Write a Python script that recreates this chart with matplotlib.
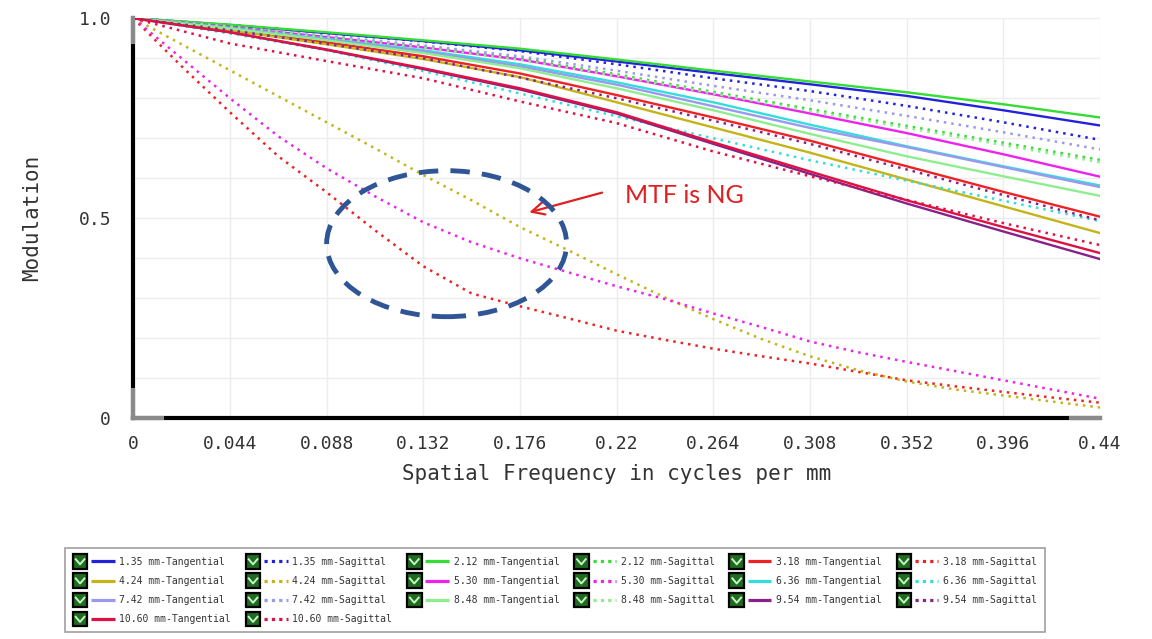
import matplotlib.pyplot as plt
from matplotlib.patches import Ellipse, Rectangle
from matplotlib.lines import Line2D
from matplotlib.legend_handler import HandlerBase

# spatial frequency samples (cycles per mm)
freq = [0, 0.044, 0.088, 0.132, 0.176, 0.22, 0.264, 0.308, 0.352, 0.396, 0.44]
freq_fine = [0, 0.022, 0.044, 0.066, 0.088, 0.11, 0.132, 0.154, 0.176, 0.198, 0.22,
             0.242, 0.264, 0.286, 0.308, 0.33, 0.352, 0.374, 0.396, 0.418, 0.44]

# modulation per field
tan_135 = [1, 0.983, 0.963, 0.943, 0.920, 0.892, 0.863, 0.835, 0.806, 0.770, 0.732]
sag_135 = [1, 0.983, 0.963, 0.942, 0.918, 0.885, 0.850, 0.818, 0.781, 0.740, 0.696]
tan_212 = [1, 0.984, 0.965, 0.945, 0.924, 0.897, 0.869, 0.842, 0.815, 0.785, 0.752]
sag_212 = [1, 0.980, 0.955, 0.930, 0.900, 0.860, 0.816, 0.773, 0.731, 0.689, 0.646]
tan_318 = [1, 0.972, 0.940, 0.905, 0.862, 0.808, 0.752, 0.694, 0.630, 0.566, 0.504]
sag_318 = [1.0, 0.88, 0.765, 0.655, 0.565, 0.47, 0.38, 0.312, 0.28, 0.25, 0.219,
           0.196, 0.174, 0.155, 0.137, 0.116, 0.095, 0.08, 0.066, 0.052, 0.039]
tan_424 = [1, 0.970, 0.935, 0.898, 0.853, 0.790, 0.727, 0.664, 0.597, 0.530, 0.463]
sag_424 = [1.0, 0.935, 0.87, 0.805, 0.74, 0.675, 0.608, 0.545, 0.478, 0.42, 0.36,
           0.302, 0.248, 0.198, 0.155, 0.12, 0.092, 0.072, 0.057, 0.042, 0.027]
tan_530 = [1, 0.978, 0.953, 0.927, 0.897, 0.855, 0.810, 0.762, 0.713, 0.660, 0.604]
sag_530 = [1.0, 0.90, 0.80, 0.705, 0.625, 0.555, 0.49, 0.44, 0.40, 0.365, 0.33,
           0.298, 0.262, 0.228, 0.192, 0.165, 0.141, 0.118, 0.095, 0.072, 0.049]
tan_636 = [1, 0.976, 0.949, 0.920, 0.885, 0.840, 0.790, 0.734, 0.680, 0.630, 0.582]
sag_636 = [1, 0.962, 0.920, 0.868, 0.812, 0.755, 0.700, 0.645, 0.594, 0.544, 0.493]
tan_742 = [1, 0.975, 0.947, 0.917, 0.880, 0.834, 0.780, 0.726, 0.678, 0.628, 0.578]
sag_742 = [1, 0.980, 0.956, 0.932, 0.905, 0.869, 0.831, 0.795, 0.756, 0.715, 0.672]
tan_848 = [1, 0.974, 0.945, 0.913, 0.875, 0.825, 0.770, 0.711, 0.655, 0.605, 0.556]
sag_848 = [1, 0.979, 0.953, 0.927, 0.896, 0.856, 0.812, 0.768, 0.726, 0.683, 0.640]
tan_954 = [1, 0.965, 0.921, 0.873, 0.822, 0.762, 0.686, 0.611, 0.537, 0.467, 0.398]
sag_954 = [1, 0.970, 0.936, 0.900, 0.852, 0.800, 0.744, 0.686, 0.622, 0.558, 0.495]
tan_1060 = [1, 0.965, 0.922, 0.875, 0.825, 0.765, 0.690, 0.617, 0.545, 0.478, 0.413]
sag_1060 = [1, 0.937, 0.893, 0.850, 0.792, 0.738, 0.667, 0.605, 0.546, 0.488, 0.433]

fields = ['1.35', '2.12', '3.18', '4.24', '5.30', '6.36', '7.42', '8.48', '9.54', '10.60']
colors = ['#2222dd', '#33dd33', '#ee2222', '#c4b418', '#ee22ee',
          '#33dddd', '#9999ee', '#8eee8e', '#882288', '#dd1144']
tan_list = [tan_135, tan_212, tan_318, tan_424, tan_530, tan_636, tan_742, tan_848, tan_954, tan_1060]
sag_list = [sag_135, sag_212, sag_318, sag_424, sag_530, sag_636, sag_742, sag_848, sag_954, sag_1060]

mono = 'DejaVu Sans Mono'


# checkbox + line legend handle, like the lens design software
class CheckHandler(HandlerBase):
    def create_artists(self, legend, orig_handle, xdescent, ydescent, width, height, fontsize, trans):
        x0 = -xdescent
        y0 = -ydescent
        h = height
        s = 1.3 * h
        yb = y0 + h / 2 - s / 2
        box = Rectangle((x0, yb), s, s, facecolor='#1f6b1f', edgecolor='black', lw=1.6, transform=trans)
        check = Line2D([x0 + 0.2 * s, x0 + 0.5 * s, x0 + 0.8 * s],
                       [yb + 0.65 * s, yb + 0.3 * s, yb + 0.65 * s],
                       color='#c8f5c8', lw=1.4, transform=trans)
        if orig_handle.get_linestyle() == '-':
            ls = '-'
        else:
            ls = (0, (1, 1.3))
        line = Line2D([x0 + s + 0.35 * h, x0 + width], [y0 + h / 2, y0 + h / 2],
                      color=orig_handle.get_color(), ls=ls, lw=2.3,
                      solid_capstyle='butt', dash_capstyle='butt', transform=trans)
        return [box, check, line]


fig = plt.figure(figsize=(11.52, 6.39), dpi=100)
ax = fig.add_axes([0.1157, 0.3454, 0.8392, 0.626])

tan_lines = []
sag_lines = []
for i in range(len(fields)):
    xs = freq_fine if len(sag_list[i]) == len(freq_fine) else freq
    t, = ax.plot(freq, tan_list[i], color=colors[i], lw=1.7, ls='-',
                 label=fields[i] + ' mm-Tangential')
    s, = ax.plot(xs, sag_list[i], color=colors[i], lw=1.8, ls=(0, (1.0, 2.0)),
                 label=fields[i] + ' mm-Sagittal')
    tan_lines.append(t)
    sag_lines.append(s)

ax.set_xlim(0, 0.44)
ax.set_ylim(0, 1.0)
ax.set_xticks(freq)
ax.set_xticklabels(['0', '0.044', '0.088', '0.132', '0.176', '0.22', '0.264',
                    '0.308', '0.352', '0.396', '0.44'], fontfamily=mono, fontsize=13, color='#333333')
ax.set_yticks([0, 0.5, 1.0])
ax.set_yticklabels(['0', '0.5', '1.0'], fontfamily=mono, fontsize=13, color='#333333')
ax.set_yticks([0.1, 0.2, 0.3, 0.4, 0.6, 0.7, 0.8, 0.9], minor=True)
ax.tick_params(axis='both', which='both', length=0)
ax.tick_params(axis='x', pad=12)
ax.tick_params(axis='y', pad=16)
ax.grid(True, which='both', color='#ededed', lw=1.0)
ax.set_axisbelow(True)

for side in ['top', 'right']:
    ax.spines[side].set_visible(False)
for side in ['left', 'bottom']:
    ax.spines[side].set_color('black')
    ax.spines[side].set_linewidth(3)
# grey end pieces on the axis lines
ax.plot([0, 0], [0.94, 1.0], color='#8a8a8a', lw=3, transform=ax.transAxes, clip_on=False, zorder=5)
ax.plot([0, 0], [0.0, 0.07], color='#8a8a8a', lw=3, transform=ax.transAxes, clip_on=False, zorder=5)
ax.plot([0, 0.03], [0, 0], color='#8a8a8a', lw=3, transform=ax.transAxes, clip_on=False, zorder=5)
ax.plot([0.97, 1.0], [0, 0], color='#8a8a8a', lw=3, transform=ax.transAxes, clip_on=False, zorder=5)

ax.set_xlabel('Spatial Frequency in cycles per mm', fontfamily=mono, fontsize=15,
              color='#333333', labelpad=8)
ax.set_ylabel('Modulation', fontfamily=mono, fontsize=15, color='#333333', labelpad=26)

# annotation: dashed ellipse and red arrow
ell = Ellipse((0.1426, 0.4365), 0.1092, 0.365, fill=False, ec='#2f5597', lw=3.5,
              ls=(0, (4, 2.5)), zorder=6)
ax.add_patch(ell)
ax.annotate('', xy=(0.179, 0.513), xytext=(0.2146, 0.566),
            arrowprops=dict(arrowstyle='->,head_length=0.9,head_width=0.45', color='#e02020', lw=1.6))
ax.text(0.2237, 0.558, 'MTF is NG', color='#e02020', fontsize=18, fontfamily='Lato', va='center')

# legend, column-wise order to match the row layout
order = [tan_lines[0], tan_lines[3], tan_lines[6], tan_lines[9],
         sag_lines[0], sag_lines[3], sag_lines[6], sag_lines[9],
         tan_lines[1], tan_lines[4], tan_lines[7],
         sag_lines[1], sag_lines[4], sag_lines[7],
         tan_lines[2], tan_lines[5], tan_lines[8],
         sag_lines[2], sag_lines[5], sag_lines[8]]
leg = fig.legend(handles=order, labels=[h.get_label() for h in order], ncol=6,
                 loc='upper left', bbox_to_anchor=(0.0564, 0.0, 0.8507, 0.1424),
                 bbox_transform=fig.transFigure, mode='expand', borderaxespad=0,
                 prop={'family': mono, 'size': 7}, handler_map={Line2D: CheckHandler()},
                 handlelength=4.3, handleheight=1.4, handletextpad=0.5, labelspacing=0.82,
                 borderpad=0.8, fancybox=False, frameon=True)
leg.get_frame().set_edgecolor('#888888')
leg.get_frame().set_linewidth(1.2)
for txt in leg.get_texts():
    txt.set_color('#333333')

fig.savefig('out.png', dpi=100, facecolor='white')
